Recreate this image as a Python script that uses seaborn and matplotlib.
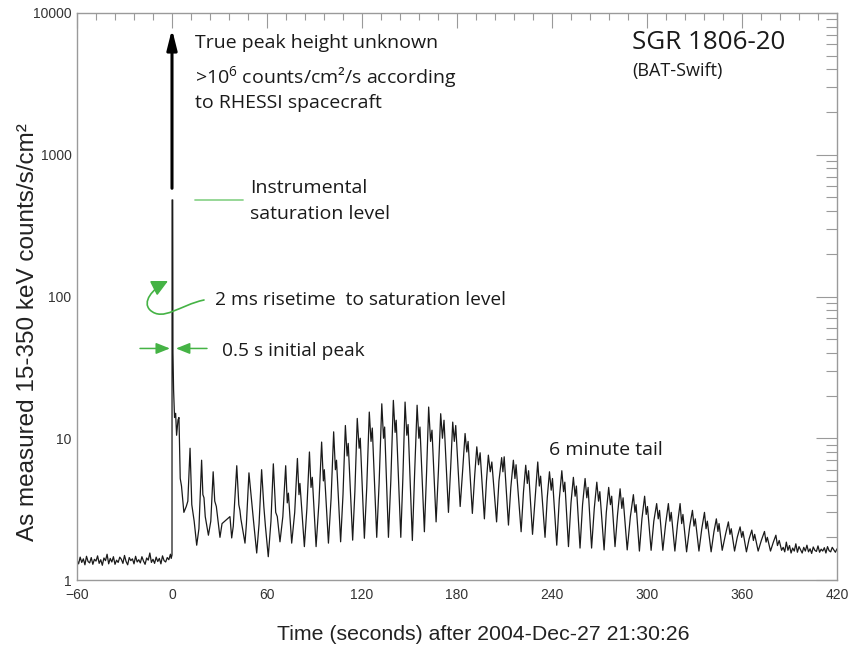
import numpy as np
import pandas as pd
import matplotlib
matplotlib.use('Agg')
import matplotlib.pyplot as plt
from matplotlib.ticker import FixedLocator, MultipleLocator, LogLocator, NullFormatter
from matplotlib.path import Path
from matplotlib.patches import FancyArrowPatch
import seaborn as sns

# 爆发前的本底，从 -60 s 起每秒一个值
pre_t0 = -60
pre_rate = [1.38, 1.30, 1.45, 1.33, 1.41, 1.28, 1.47, 1.35, 1.32, 1.44,
            1.29, 1.40, 1.36, 1.48, 1.31, 1.39, 1.27, 1.43, 1.37, 1.52,
            1.30, 1.42, 1.34, 1.46, 1.29, 1.38, 1.33, 1.45, 1.40, 1.31,
            1.49, 1.35, 1.28, 1.44, 1.37, 1.41, 1.30, 1.47, 1.34, 1.39,
            1.32, 1.46, 1.36, 1.29, 1.43, 1.38, 1.55, 1.33, 1.40, 1.31,
            1.45, 1.35, 1.42, 1.30, 1.48, 1.37, 1.34, 1.44, 1.39, 1.52]

# 初始尖峰 + 脉动尾巴：每个周期 峰值、凹陷、次峰、谷底、上升
pulse_t = [
    -0.5, 0.0, 0.05, 0.45, 0.6, 1.0, 1.6, 2.3, 2.9, 3.8, 4.4, 5.2, 6.0, 7.5, 9.0, 10.0,
    11.4, 12.5, 14.0, 15.6, 17.0,
    18.7, 19.5, 20.2, 21.0, 23.0, 24.5,
    26.0, 27.0, 28.0, 30.3, 31.6, 36.6, 37.7, 38.7,
    40.9, 42.2, 42.9, 43.5, 46.1, 47.0,
    48.6, 50.5, 51.5, 53.5, 55.0,
    56.6, 58.0, 59.0, 60.8, 62.5,
    64.0, 65.5, 66.5, 68.2, 70.0,
    71.8, 72.8, 73.5, 75.6, 77.5,
    79.2, 80.2, 80.8, 83.6, 85.2,
    86.8, 87.8, 88.6, 91.0, 92.8,
    94.5, 95.6, 96.2, 98.8, 100.5,
    102.1, 103.2, 103.9, 106.5, 108.0,
    109.5, 110.6, 111.3, 114.1, 115.5,
    117.0, 118.2, 118.9, 121.5, 123.0,
    124.6, 125.7, 126.5, 129.3, 130.8,
    132.5, 133.6, 134.3, 136.7, 138.2,
    139.8, 140.9, 141.6, 144.5, 145.8,
    147.2, 148.3, 149.1, 151.8, 153.2,
    154.8, 155.9, 156.6, 159.4, 160.8,
    162.1, 163.3, 164.2, 166.8, 168.3,
    169.7, 170.8, 171.8, 174.6, 176.0,
    177.3, 178.3, 179.2, 182.0, 183.6,
    185.1, 186.2, 187.0, 189.7, 191.2,
    192.5, 193.6, 194.6, 197.3, 198.6,
    199.8, 201.0, 202.0, 205.0, 206.5,
    208.2, 209.0, 209.8, 212.5, 214.0,
    215.6, 216.6, 217.3, 220.5, 222.0,
    223.4, 224.4, 225.2, 227.7, 229.5,
    231.0, 232.0, 232.8, 235.6, 237.0,
    238.4, 239.5, 240.3, 243.0, 244.6,
    246.2, 247.3, 248.1, 250.4, 252.0,
    253.5, 254.6, 255.4, 257.7, 259.3,
    260.9, 262.0, 262.8, 265.0, 266.7,
    268.3, 269.4, 270.2, 272.9, 274.3,
    275.8, 276.9, 277.7, 279.8, 281.4,
    283.0, 284.1, 284.9, 287.5, 289.5,
    291.4, 292.4, 293.1, 295.2, 296.8,
    298.5, 299.5, 300.3, 302.6, 304.3,
    306.1, 307.1, 307.9, 310.0, 311.8,
    313.5, 314.5, 315.3, 317.6, 319.3,
    320.9, 321.9, 322.7, 325.0, 327.0,
    328.7, 329.7, 330.5, 332.8, 334.6,
    336.3, 337.3, 338.1, 340.5, 342.3,
    343.8, 344.8, 345.5, 347.5, 349.6,
    351.4, 352.4, 353.2, 355.3, 357.0,
    358.8, 359.8, 360.6, 362.8, 364.5,
    366.2, 367.2, 368.0, 370.2, 372.2,
    374.2, 375.2, 376.0, 378.0, 379.8,
    381.4, 382.4, 383.5, 385.0,
]
pulse_rate = [
    1.42, 1.5, 480, 480, 40, 22, 14, 15, 10.5, 13.5, 14, 5.2, 4.6, 3.0, 3.3, 3.6,
    8.5, 3.4, 2.6, 1.76, 2.3,
    7.0, 4.0, 3.8, 2.8, 2.07, 2.6,
    5.8, 3.6, 3.3, 2.0, 2.5, 2.8, 1.98, 2.4,
    6.4, 3.4, 3.1, 2.7, 1.82, 2.5,
    5.7, 3.4, 2.6, 1.55, 2.5,
    6.0, 3.3, 2.4, 1.46, 2.6,
    6.6, 3.0, 2.8, 1.86, 2.8,
    6.4, 3.5, 4.1, 1.82, 3.0,
    7.2, 4.0, 4.8, 1.72, 3.2,
    8.0, 4.5, 5.3, 1.72, 3.5,
    9.4, 5.0, 6.0, 1.82, 3.8,
    11.1, 6.0, 7.0, 1.86, 4.0,
    12.3, 7.5, 9.2, 1.91, 4.2,
    13.8, 8.5, 10.0, 1.97, 4.5,
    15.3, 9.5, 11.8, 2.0, 4.8,
    17.5, 10.0, 12.0, 2.0, 5.0,
    18.5, 11.0, 13.4, 2.0, 5.2,
    18.0, 10.5, 12.5, 1.9, 5.5,
    17.1, 10.0, 12.0, 2.19, 5.8,
    16.6, 9.5, 11.4, 2.57, 6.0,
    14.9, 10.0, 13.4, 3.0, 6.2,
    13.0, 9.5, 12.3, 3.3, 6.0,
    10.8, 8.0, 9.5, 2.95, 5.5,
    8.7, 6.5, 7.9, 2.7, 5.0,
    7.6, 5.8, 6.8, 2.57, 5.0,
    7.3, 5.8, 7.4, 2.44, 4.5,
    7.0, 5.2, 6.5, 2.19, 4.2,
    6.45, 4.8, 5.9, 2.1, 4.0,
    6.8, 4.6, 5.4, 2.0, 3.8,
    5.8, 4.3, 5.2, 1.76, 3.7,
    5.9, 4.2, 4.9, 1.72, 3.5,
    5.3, 3.9, 4.6, 1.68, 3.4,
    5.2, 3.8, 4.5, 1.68, 3.2,
    4.9, 3.6, 4.2, 1.63, 3.0,
    4.5, 3.4, 3.9, 1.72, 2.9,
    4.4, 3.2, 3.8, 1.63, 2.8,
    4.0, 3.0, 3.4, 1.6, 2.7,
    3.9, 2.9, 3.3, 1.62, 2.6,
    3.46, 2.7, 3.1, 1.62, 2.5,
    3.46, 2.6, 3.0, 1.6, 2.5,
    3.46, 2.5, 2.9, 1.58, 2.4,
    3.1, 2.4, 2.7, 1.6, 2.3,
    3.0, 2.3, 2.6, 1.58, 2.2,
    2.7, 2.2, 2.5, 1.62, 2.1,
    2.57, 2.1, 2.3, 1.6, 2.0,
    2.37, 2.0, 2.2, 1.58, 1.95,
    2.25, 1.9, 2.1, 1.6, 1.9,
    2.2, 1.85, 2.0, 1.6, 1.85,
    2.07, 1.75, 1.9, 1.62,
]

# 尾巴末端回到本底，从 386 s 起每秒一个值
tail_t0 = 386
tail_rate = [1.70, 1.58, 1.85, 1.62, 1.75, 1.55, 1.68, 1.60, 1.80, 1.57,
             1.72, 1.63, 1.55, 1.70, 1.60, 1.76, 1.58, 1.66, 1.54, 1.71,
             1.62, 1.59, 1.74, 1.57, 1.65, 1.60, 1.69, 1.55, 1.72, 1.61,
             1.58, 1.70, 1.63, 1.57, 1.66]

x_ticks = [-60, 0, 60, 120, 180, 240, 300, 360, 420]
y_ticks = [1, 10, 100, 1000, 10000]
y_tick_labels = ['1', '10', '100', '1000', '10000']

saturation_level = 480
arrow_bottom = 580
arrow_top = 7700

# 合并成一个表
t_all = list(np.arange(len(pre_rate)) + pre_t0) + pulse_t + list(np.arange(len(tail_rate)) + tail_t0)
rate_all = pre_rate + pulse_rate + tail_rate
df = pd.DataFrame({'t': t_all, 'rate': rate_all})

sns.set_theme(style='white')
plt.rcParams['font.family'] = ['Liberation Sans', 'DejaVu Sans']
plt.rcParams['mathtext.fontset'] = 'custom'
plt.rcParams['mathtext.rm'] = 'Open Sans'
plt.rcParams['mathtext.default'] = 'regular'

W, H = 848, 647
fig = plt.figure(figsize=(W / 100, H / 100), dpi=100)
fig.patch.set_facecolor('white')
ax = fig.add_axes([77 / W, (H - 580) / H, 760 / W, 567 / H])
ax.set_yscale('log')

sns.lineplot(data=df, x='t', y='rate', sort=False, estimator=None,
             color='#1a1a1a', linewidth=0.9, ax=ax)

ax.set_xlim(-60, 420)
ax.set_ylim(1, 10000)
ax.set_xlabel('')
ax.set_ylabel('')

# 坐标轴刻度
ax.xaxis.set_major_locator(FixedLocator(x_ticks))
ax.xaxis.set_minor_locator(MultipleLocator(12))
ax.yaxis.set_major_locator(FixedLocator(y_ticks))
ax.set_yticklabels(y_tick_labels)
ax.yaxis.set_minor_locator(LogLocator(base=10, subs=range(2, 10)))
ax.yaxis.set_minor_formatter(NullFormatter())

axis_gray = '#9a9a9a'
ax.tick_params(which='both', direction='in', top=True, right=True, color=axis_gray, width=0.8)
ax.tick_params(axis='x', which='major', length=11, labelsize=10, labelcolor='#333333', pad=6)
ax.tick_params(axis='x', which='minor', length=5)
ax.tick_params(axis='y', which='major', length=15, labelsize=10, labelcolor='#333333', pad=4)
ax.tick_params(axis='y', which='minor', length=8)
for sp in ax.spines.values():
    sp.set_color(axis_gray)
    sp.set_linewidth(1.0)

# 轴标签
fig.text(483 / W, 1 - 634 / H, 'Time (seconds) after 2004-Dec-27 21:30:26',
         ha='center', va='center', fontsize=15.3, color='#222222')
fig.text(28 / W, 1 - 332 / H, 'As measured 15-350 keV counts/s/cm²', rotation=90,
         ha='center', va='center', fontsize=17.5, color='#222222')

# 注释文字
ann_font = ['Open Sans', 'DejaVu Sans']
txt = dict(ha='left', va='center', color='#1a1a1a', family=ann_font)
ax.text(14.5, 6150, 'True peak height unknown', fontsize=14, **txt)
ax.text(14.5, 3530, r'>10$^6$ counts/cm²/s according', fontsize=14, **txt)
ax.text(14.5, 2323, 'to RHESSI spacecraft', fontsize=14, **txt)
ax.text(290.6, 6150, 'SGR 1806-20', fontsize=18.7, **txt)
ax.text(290.6, 3900, '(BAT-Swift)', fontsize=13, **txt)
ax.text(49.3, 585, 'Instrumental', fontsize=14, **txt)
ax.text(49.3, 384, 'saturation level', fontsize=14, **txt)
ax.text(27.2, 94, '2 ms risetime  to saturation level', fontsize=13.8, **txt)
ax.text(31.6, 41, '0.5 s initial peak', fontsize=13.8, **txt)
ax.text(238, 8.2, '6 minute tail', fontsize=14, **txt)

green = '#45b345'
light_green = '#8fd48f'

# 真实峰值箭头
ax.annotate('', xy=(0, arrow_top), xytext=(0, arrow_bottom),
            arrowprops=dict(arrowstyle='-|>,head_length=1.0,head_width=0.25',
                            color='black', lw=2.2, shrinkA=0, shrinkB=0))

# 饱和水平的图例线
ax.plot([14.5, 44.9], [saturation_level, saturation_level], color=light_green, lw=1.3)

# 0.5 s 宽度的两支箭头
arrow_g = dict(arrowstyle='-|>,head_length=0.7,head_width=0.28', color=green, lw=1.1,
               shrinkA=0, shrinkB=0)
ax.annotate('', xy=(-1.3, 43), xytext=(-20.2, 43), arrowprops=arrow_g)
ax.annotate('', xy=(2.5, 43), xytext=(22.1, 43), arrowprops=arrow_g)

# 弯曲的上升时间箭头（图像像素坐标）
def fpix(px, py):
    return (px / W, 1 - py / H)

verts = [fpix(204, 300), fpix(180, 305), fpix(163, 322), fpix(150, 310),
         fpix(142, 302), fpix(152, 289), fpix(168, 281)]
codes = [Path.MOVETO, Path.CURVE4, Path.CURVE4, Path.CURVE4,
         Path.CURVE4, Path.CURVE4, Path.CURVE4]
curl = FancyArrowPatch(path=Path(verts, codes), transform=fig.transFigure,
                       arrowstyle='-|>,head_length=0.7,head_width=0.35', mutation_scale=14,
                       color=green, lw=1.2)
fig.add_artist(curl)

fig.savefig('out.png', dpi=100)
